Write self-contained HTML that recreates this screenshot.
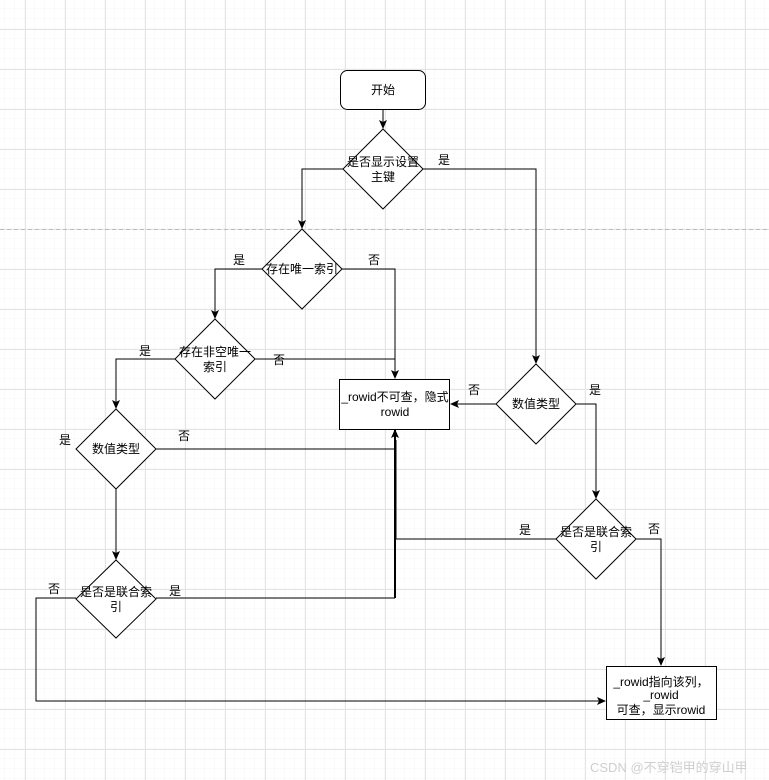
<!DOCTYPE html>
<html><head><meta charset="utf-8"><style>
html,body{margin:0;padding:0;background:#fff;}
svg{display:block;}
text{font-family:"Liberation Sans","Noto Sans CJK SC",sans-serif;font-size:12px;fill:#000;}
</style></head><body>
<svg width="769" height="780" viewBox="0 0 769 780" xmlns="http://www.w3.org/2000/svg">
<defs>
<pattern id="minor" width="10" height="10" patternUnits="userSpaceOnUse" x="5" y="-1">
<path d="M10 0V10M0 10H10" stroke="#f5f5f5" stroke-width="1" fill="none"/></pattern>
<pattern id="major" width="40" height="40" patternUnits="userSpaceOnUse" x="25" y="29">
<path d="M0.5 0V40M0 0.5H40" stroke="#e4e4e4" stroke-width="1" fill="none"/></pattern>
<marker id="a" markerWidth="10" markerHeight="10" refX="8" refY="5" orient="auto" markerUnits="userSpaceOnUse">
<path d="M0,1 L9,5 L0,9 L2,5 z" fill="#000"/></marker>
</defs>
<rect width="769" height="780" fill="#fff"/>
<rect width="769" height="780" fill="url(#minor)"/>
<rect width="769" height="780" fill="url(#major)"/>
<line x1="0" y1="229.5" x2="769" y2="229.5" stroke="#bbb" stroke-dasharray="4,3"/>

<g stroke="#000" stroke-width="1" fill="none">
<line x1="383" y1="109" x2="383" y2="128" marker-end="url(#a)"/>
<polyline points="343,169 302,169 302,228" marker-end="url(#a)"/>
<polyline points="423,169 536,169 536,363" marker-end="url(#a)"/>
<polyline points="262,269 215,269 215,318" marker-end="url(#a)"/>
<polyline points="342,269 395,269 395,378" marker-end="url(#a)"/>
<line x1="255" y1="359" x2="395" y2="359"/>
<polyline points="175,359 116,359 116,408" marker-end="url(#a)"/>
<line x1="116" y1="489" x2="116" y2="559" marker-end="url(#a)"/>
<polyline points="156,449 395,449" />
<line x1="156" y1="598" x2="395" y2="598"/>
<line x1="395" y1="598" x2="395" y2="430" stroke-width="2" marker-end="url(#a)"/>
<polyline points="76,598 36,598 36,701 605,701" marker-end="url(#a)"/>
<line x1="496" y1="404" x2="451" y2="404" marker-end="url(#a)"/>
<polyline points="576,404 596,404 596,498" marker-end="url(#a)"/>
<polyline points="556,539 396,539 396,440"/>
<polyline points="636,539 661,539 661,665" marker-end="url(#a)"/>
</g>

<g stroke="#000" stroke-width="1" fill="#fff">
<rect x="340.5" y="70.5" width="85" height="39" rx="7"/>
<polygon points="383,129 423,169 383,209 343,169"/>
<polygon points="302,229 342,269 302,309 262,269"/>
<polygon points="215,319 255,359 215,399 175,359"/>
<polygon points="536,364 576,404 536,444 496,404"/>
<rect x="339.5" y="379.5" width="110" height="50"/>
<polygon points="116,409 156,449 116,489 76,449"/>
<polygon points="116,560 156,599 116,638 76,599"/>
<polygon points="596,499 636,539 596,579 556,539"/>
<rect x="606.5" y="666.5" width="110" height="53"/>
</g>

<g text-anchor="middle">
<text x="383" y="94">开始</text>
<text x="383" y="166">是否显示设置</text>
<text x="383" y="181">主键</text>
<text x="302" y="273">存在唯一索引</text>
<text x="215" y="356">存在非空唯一</text>
<text x="215" y="371">索引</text>
<text x="536" y="408">数值类型</text>
<text x="395" y="401">_rowid不可查，隐式</text>
<text x="395" y="416">rowid</text>
<text x="116" y="453">数值类型</text>
<text x="116" y="596">是否是联合索</text>
<text x="116" y="611">引</text>
<text x="596" y="536">是否是联合索</text>
<text x="596" y="551">引</text>
<text x="661" y="686">_rowid指向该列，</text>
<text x="661" y="699">_rowid</text>
<text x="661" y="714">可查，显示rowid</text>
</g>
<g>
<text x="438" y="164">是</text>
<text x="233" y="264">是</text>
<text x="368" y="264">否</text>
<text x="139" y="355">是</text>
<text x="273" y="364">否</text>
<text x="468" y="394">否</text>
<text x="589" y="394">是</text>
<text x="59" y="444">是</text>
<text x="178" y="440">否</text>
<text x="48" y="593">否</text>
<text x="169" y="595">是</text>
<text x="519" y="534">是</text>
<text x="648" y="533">否</text>
</g>
<text x="590" y="772" style="font-size:13px;fill:#cfcfcf;">CSDN @不穿铠甲的穿山甲</text>
</svg>
</body></html>
